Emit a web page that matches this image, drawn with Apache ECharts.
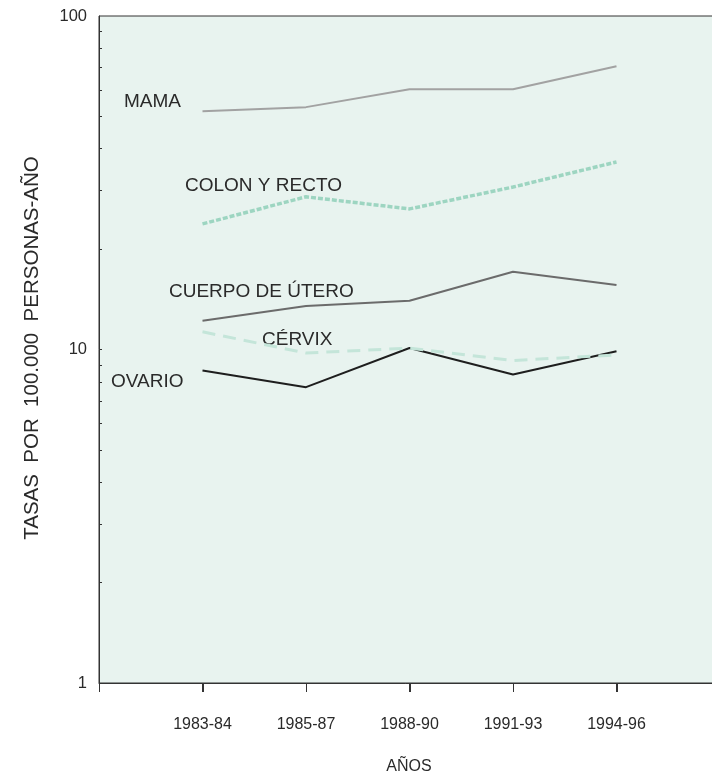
<!DOCTYPE html>
<html>
<head>
<meta charset="utf-8">
<script src="https://cdn.jsdelivr.net/npm/echarts@6/dist/echarts.min.js"></script>
<style>
  html, body { margin: 0; padding: 0; background: #ffffff; }
  #chart { width: 712px; height: 781px; }
</style>
</head>
<body>
<div id="chart"></div>
<script>
// Periods on the horizontal axis
const categories = ['1983-84', '1985-87', '1988-90', '1991-93', '1994-96'];

// Incidence rates per 100,000 person-years
const mama = [51.8, 53.3, 60.3, 60.3, 70.7];
const colonRecto = [23.8, 28.7, 26.4, 30.7, 36.5];
const cuerpoUtero = [12.2, 13.5, 14.0, 17.1, 15.6];
const cervix = [11.3, 9.76, 10.1, 9.27, 9.63];
const ovario = [8.65, 7.71, 10.1, 8.42, 9.88];

// Log axis labels and the intermediate tick values of each decade
const yTickLabels = [1, 10, 100];
const yMinorTicks = [2, 3, 4, 5, 6, 7, 8, 9, 10, 20, 30, 40, 50, 60, 70, 80, 90];

const FONT = '"Liberation Sans", Arial, Helvetica, sans-serif';
const TEXT = '#2a2a2a';
const AXIS = '#333333';

// empty slots before and after the periods give the margin at both ends
const axisSlots = [' '].concat(categories, ['  ']);
const toPoints = vals => categories.map((c, i) => [c, vals[i]]);

const chart = echarts.init(document.getElementById('chart'), null, { renderer: 'canvas' });

function lineSeries(name, vals, color, width, type) {
  return {
    name: name,
    type: 'line',
    yAxisIndex: 0,
    data: toPoints(vals),
    showSymbol: false,
    symbol: 'none',
    silent: true,
    lineStyle: { color: color, width: width, type: type || 'solid', cap: 'butt', join: 'round' }
  };
}

// short downward marks under each period on the bottom axis
const periodTicks = {
  type: 'custom',
  yAxisIndex: 0,
  silent: true,
  clip: false,
  z: 5,
  data: categories.map(c => [c, 1]),
  renderItem: function (params, api) {
    const p = api.coord([api.value(0), api.value(1)]);
    const x = Math.round(p[0]) + 0.5;
    return {
      type: 'line',
      shape: { x1: x, y1: p[1], x2: x, y2: p[1] + 9 },
      style: { stroke: AXIS, lineWidth: 1 }
    };
  }
};

const seriesLabels = [
  { text: 'MAMA', x: 124, y: 102 },
  { text: 'COLON Y RECTO', x: 185, y: 186 },
  { text: 'CUERPO DE ÚTERO', x: 169, y: 292 },
  { text: 'CÉRVIX', x: 262, y: 340 },
  { text: 'OVARIO', x: 111, y: 382 }
];

const option = {
  animation: false,
  backgroundColor: '#ffffff',
  grid: {
    left: 99, top: 16, width: 621, bottom: 98,
    outerBoundsMode: 'none',
    containLabel: false,
    show: true,
    backgroundColor: '#e8f3ef',
    borderColor: AXIS,
    borderWidth: 1
  },
  xAxis: {
    type: 'category',
    data: axisSlots,
    boundaryGap: false,
    axisLine: { show: true, lineStyle: { color: AXIS, width: 1 } },
    axisTick: { show: true, interval: 0, length: 9, lineStyle: { color: AXIS, width: 1 } },
    splitLine: { show: false },
    axisLabel: {
      interval: 0,
      margin: 34,
      fontSize: 16,
      fontFamily: FONT,
      color: TEXT
    }
  },
  yAxis: [
    {
      type: 'log',
      logBase: 10,
      min: 1,
      max: 100,
      position: 'left',
      axisLine: { show: true, lineStyle: { color: AXIS, width: 1 } },
      axisTick: { show: false },
      splitLine: { show: false },
      minorTick: { show: false },
      axisLabel: {
        margin: 12,
        fontSize: 16.5,
        fontFamily: FONT,
        color: TEXT,
        formatter: v => (yTickLabels.indexOf(Math.round(v)) >= 0 ? String(Math.round(v)) : '')
      }
    },
    {
      // decade exponent axis used only for the small inward ticks
      type: 'value',
      min: 0,
      max: 2,
      position: 'left',
      axisLine: { show: false },
      axisLabel: { show: false },
      splitLine: { show: false },
      axisTick: {
        show: true,
        inside: true,
        length: 3,
        customValues: yMinorTicks.map(v => Math.log10(v)),
        lineStyle: { color: AXIS, width: 1 }
      }
    }
  ],
  series: [
    lineSeries('MAMA', mama, '#a2a2a2', 2),
    lineSeries('COLON Y RECTO', colonRecto, '#9dd5c1', 3.5, [5, 2]),
    lineSeries('CUERPO DE ÚTERO', cuerpoUtero, '#6b6b6b', 2),
    lineSeries('OVARIO', ovario, '#1e1e1e', 2),
    lineSeries('CÉRVIX', cervix, '#c4e5d9', 3, [13, 8]),
    periodTicks
  ],
  graphic: seriesLabels.map(l => ({
    type: 'text',
    x: l.x,
    y: l.y,
    silent: true,
    style: { text: l.text, fill: TEXT, font: '19px ' + FONT, verticalAlign: 'middle', align: 'left' }
  })).concat([
    {
      type: 'text',
      x: 409, y: 767,
      silent: true,
      style: { text: 'AÑOS', fill: TEXT, font: '16px ' + FONT, align: 'center', verticalAlign: 'middle' }
    },
    {
      type: 'text',
      x: 32, y: 348,
      rotation: Math.PI / 2,
      silent: true,
      style: { text: 'TASAS  POR  100.000  PERSONAS-AÑO', fill: TEXT, font: '20.5px ' + FONT, align: 'center', verticalAlign: 'middle' }
    }
  ])
};

chart.setOption(option);
</script>
</body>
</html>
